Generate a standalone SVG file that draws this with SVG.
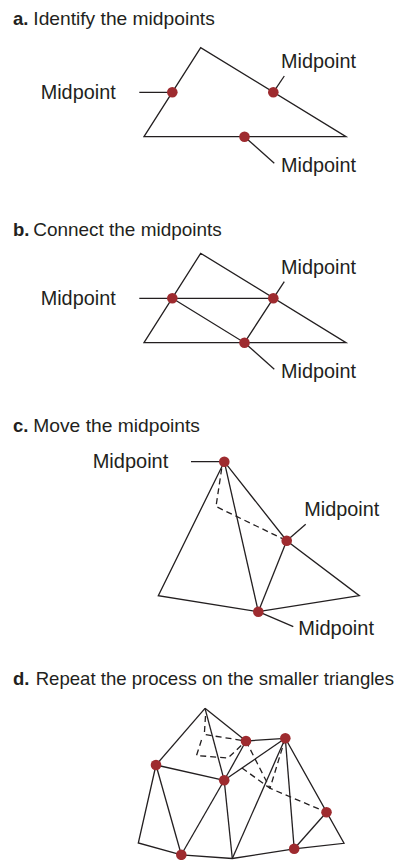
<svg xmlns="http://www.w3.org/2000/svg" width="405" height="860" viewBox="0 0 405 860">
<style>
  .ttl{font-family:"Liberation Sans",Arial,sans-serif;font-size:18.5px;fill:#231f20}
  .b{font-weight:bold}
  .lbl{font-family:"Liberation Sans",Arial,sans-serif;font-size:21px;fill:#231f20}
  .ln{stroke:#231f20;stroke-width:1.3;fill:none;stroke-linejoin:miter}
  .ds{stroke:#231f20;stroke-width:1.3;fill:none;stroke-dasharray:6 4}
  .dot{fill:#9e2b2f}
</style>
<rect width="405" height="860" fill="#ffffff"/>

<!-- Panel a -->
<g id="panel-a">
  <text class="ttl b" x="13" y="25">a.</text>
  <text class="ttl" x="33.3" y="25" textLength="181.5" lengthAdjust="spacingAndGlyphs">Identify the midpoints</text>
  <g id="a-connectors">
    <polygon class="ln" points="200.7,47.7 144,136.7 346,136.7"/>
    <line class="ln" x1="139.3" y1="92.3" x2="172.3" y2="92.3"/>
    <line class="ln" x1="273.3" y1="92.3" x2="284.3" y2="76"/>
    <line class="ln" x1="244.5" y1="136.7" x2="274.3" y2="163.3"/>
  </g>
  <g id="a-mid-left"><circle class="dot" cx="172.3" cy="92.3" r="5.3"/><text class="lbl" x="40.7" y="99" textLength="75" lengthAdjust="spacingAndGlyphs">Midpoint</text></g>
  <g id="a-mid-right"><circle class="dot" cx="273.3" cy="92.3" r="5.3"/><text class="lbl" x="281" y="68.3" textLength="75" lengthAdjust="spacingAndGlyphs">Midpoint</text></g>
  <g id="a-mid-bottom"><circle class="dot" cx="244.5" cy="136.7" r="5.3"/><text class="lbl" x="281" y="171.7" textLength="75" lengthAdjust="spacingAndGlyphs">Midpoint</text></g>
</g>

<!-- Panel b -->
<g id="panel-b">
  <text class="ttl b" x="13" y="236">b.</text>
  <text class="ttl" x="33.3" y="236" textLength="188.4" lengthAdjust="spacingAndGlyphs">Connect the midpoints</text>
  <g id="b-connectors">
    <polygon class="ln" points="200.7,253.3 144,342.7 346,342.7"/>
    <line class="ln" x1="139.3" y1="298.3" x2="273.3" y2="298.3"/>
    <polyline class="ln" points="172.3,298.3 244.5,342.7 273.3,298.3"/>
    <line class="ln" x1="273.3" y1="298.3" x2="284.3" y2="281.7"/>
    <line class="ln" x1="244.5" y1="342.7" x2="274.3" y2="369.3"/>
  </g>
  <g id="b-mid-left"><circle class="dot" cx="172.3" cy="298.3" r="5.3"/><text class="lbl" x="40.7" y="305" textLength="75" lengthAdjust="spacingAndGlyphs">Midpoint</text></g>
  <g id="b-mid-right"><circle class="dot" cx="273.3" cy="298.3" r="5.3"/><text class="lbl" x="281" y="274" textLength="75" lengthAdjust="spacingAndGlyphs">Midpoint</text></g>
  <g id="b-mid-bottom"><circle class="dot" cx="244.5" cy="342.7" r="5.3"/><text class="lbl" x="281" y="377.7" textLength="75" lengthAdjust="spacingAndGlyphs">Midpoint</text></g>
</g>

<!-- Panel c -->
<g id="panel-c">
  <text class="ttl b" x="13" y="431.5">c.</text>
  <text class="ttl" x="33.3" y="431.5" textLength="166.7" lengthAdjust="spacingAndGlyphs">Move the midpoints</text>
  <g id="c-connectors">
    <polygon class="ln" points="224.3,461.7 158.3,595.7 258.3,611.7 359.3,595.7 286.7,540.7"/>
    <line class="ln" x1="224.3" y1="461.7" x2="258.3" y2="611.7"/>
    <line class="ln" x1="286.7" y1="540.7" x2="258.3" y2="611.7"/>
    <polyline class="ds" points="221.7,468.5 216,506.5 286.7,540.7"/>
    <line class="ln" x1="191" y1="461.7" x2="224.3" y2="461.7"/>
    <line class="ln" x1="286.7" y1="540.7" x2="305.7" y2="524.3"/>
    <line class="ln" x1="258.3" y1="611.7" x2="293.3" y2="626.7"/>
  </g>
  <g id="c-mid-top"><circle class="dot" cx="224.3" cy="461.7" r="5.3"/><text class="lbl" x="92.7" y="468.3" textLength="75.6" lengthAdjust="spacingAndGlyphs">Midpoint</text></g>
  <g id="c-mid-right"><circle class="dot" cx="286.7" cy="540.7" r="5.3"/><text class="lbl" x="304.3" y="516" textLength="75" lengthAdjust="spacingAndGlyphs">Midpoint</text></g>
  <g id="c-mid-bottom"><circle class="dot" cx="258.3" cy="611.7" r="5.3"/><text class="lbl" x="298.3" y="635" textLength="75.7" lengthAdjust="spacingAndGlyphs">Midpoint</text></g>
</g>

<!-- Panel d -->
<g id="panel-d">
  <text class="ttl b" x="13" y="685">d.</text>
  <text class="ttl" x="35.7" y="685" textLength="358.3" lengthAdjust="spacingAndGlyphs">Repeat the process on the smaller triangles</text>
  <g id="d-connectors">
    <line class="ln" x1="205" y1="708.3" x2="156" y2="765"/>
    <line class="ln" x1="205" y1="708.3" x2="224.2" y2="780.3"/>
    <line class="ln" x1="205" y1="708.3" x2="246" y2="741"/>
    <line class="ln" x1="246" y1="741" x2="285.3" y2="738.3"/>
    <line class="ln" x1="156" y1="765" x2="224.2" y2="780.3"/>
    <polyline class="ln" points="156,765 138.3,843 181.3,854.8 232.3,858.5 294.2,848.8 344,843.3 285.3,738.3"/>
    <line class="ln" x1="156" y1="765" x2="181.3" y2="854.8"/>
    <line class="ln" x1="224.2" y1="780.3" x2="181.3" y2="854.8"/>
    <line class="ln" x1="224.2" y1="780.3" x2="232.3" y2="858.5"/>
    <line class="ln" x1="224.2" y1="780.3" x2="246" y2="741"/>
    <line class="ln" x1="224.2" y1="780.3" x2="285.3" y2="738.3"/>
    <line class="ln" x1="285.3" y1="738.3" x2="232.3" y2="858.5"/>
    <line class="ln" x1="285.3" y1="738.3" x2="294.2" y2="848.8"/>
    <line class="ln" x1="326.5" y1="812.2" x2="294.2" y2="848.8"/>
    <polyline class="ds" points="205.5,716 204.3,734.5 246,741"/>
    <polyline class="ds" points="201.5,740 196.5,755.5 228,758 246,741"/>
    <polyline class="ds" points="246,741 270,788.3 326.5,812.2"/>
    <line class="ds" x1="285.3" y1="738.3" x2="270" y2="788.3"/>
    <line class="ds" x1="242" y1="768" x2="270" y2="788.3"/>
  </g>
  <g id="d-B"><circle class="dot" cx="156" cy="765" r="5.3"/></g>
  <g id="d-C"><circle class="dot" cx="224.2" cy="780.3" r="5.3"/></g>
  <g id="d-D"><circle class="dot" cx="246" cy="741" r="5.3"/></g>
  <g id="d-E"><circle class="dot" cx="285.3" cy="738.3" r="5.3"/></g>
  <g id="d-F"><circle class="dot" cx="326.5" cy="812.2" r="5.3"/></g>
  <g id="d-H"><circle class="dot" cx="181.3" cy="854.8" r="5.3"/></g>
  <g id="d-J"><circle class="dot" cx="294.2" cy="848.8" r="5.3"/></g>
</g>
</svg>
